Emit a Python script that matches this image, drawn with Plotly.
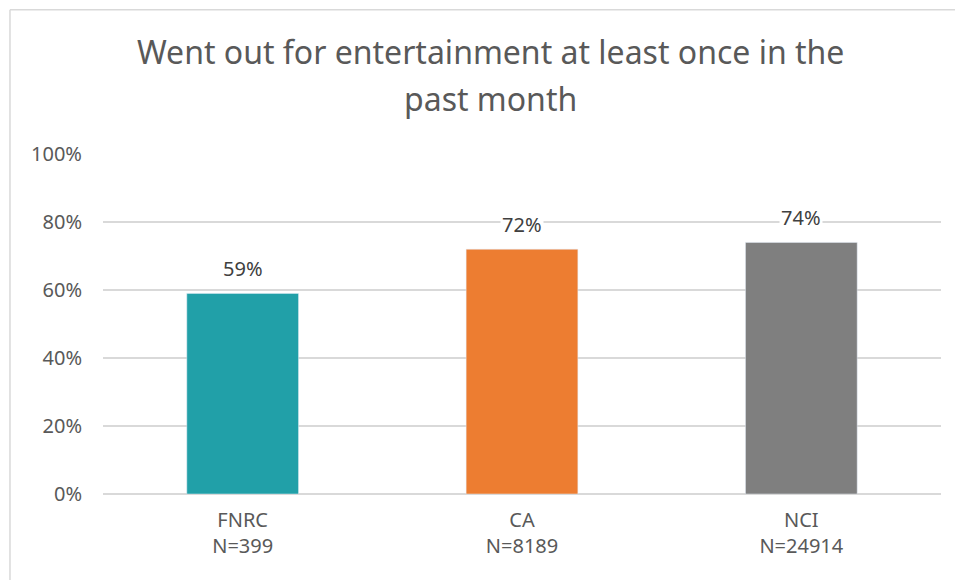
import plotly.graph_objects as go

categories = ["FNRC<br>N=399", "CA<br>N=8189", "NCI<br>N=24914"]
values = [59, 72, 74]
labels = ["59%", "72%", "74%"]
colors = ["#21A0A8", "#ED7D31", "#7F7F7F"]
tick_vals = [0, 20, 40, 60, 80, 100]
tick_text = ["0%", "20%", "40%", "60%", "80%", "100%"]
title_lines = ["Went out for entertainment at least once in the", "past month"]

FONT = "Noto Sans"
TXT = "#595959"

fig = go.Figure()
fig.add_trace(go.Bar(x=categories, y=values, marker_color=colors, width=0.4,
                     hoverinfo="skip"))

for c, v, t in zip(categories, values, labels):
    fig.add_annotation(x=c, y=v, text=t, showarrow=False, yanchor="bottom",
                       yshift=9, bgcolor="white",
                       font=dict(family=FONT, size=20, color="#404040"))

# title, one annotation per line for exact line spacing
for line, ty in zip(title_lines, [1.30, 1.162]):
    fig.add_annotation(xref="paper", yref="paper", x=0.463, y=ty, text=line,
                       showarrow=False, xanchor="center", yanchor="middle",
                       font=dict(family=FONT, size=32, color=TXT))

# chart-area border (top and left edges visible)
fig.add_shape(type="line", xref="paper", yref="paper", x0=-0.111, x1=1.2,
              y0=1.424, y1=1.424, line=dict(color="#D9D9D9", width=1.5))
fig.add_shape(type="line", xref="paper", yref="paper", x0=-0.111, x1=-0.111,
              y0=1.424, y1=-0.5, line=dict(color="#D9D9D9", width=1.5))

fig.update_layout(
    width=955, height=572,
    margin=dict(l=95, r=22, t=146, b=86),
    paper_bgcolor="white", plot_bgcolor="white",
    showlegend=False,
    xaxis=dict(showgrid=False, showline=False, ticks="", ticklabelstandoff=12,
               tickfont=dict(family=FONT, size=20, color=TXT)),
    yaxis=dict(range=[0, 100], tickvals=tick_vals, ticktext=tick_text,
               showgrid=True, gridcolor="#D9D9D9", gridwidth=1.5,
               zeroline=True, zerolinecolor="#D9D9D9", zerolinewidth=1.5,
               showline=False, ticks="", ticklabelstandoff=20,
               tickfont=dict(family=FONT, size=20, color=TXT)),
)

fig.write_html("out.html")
